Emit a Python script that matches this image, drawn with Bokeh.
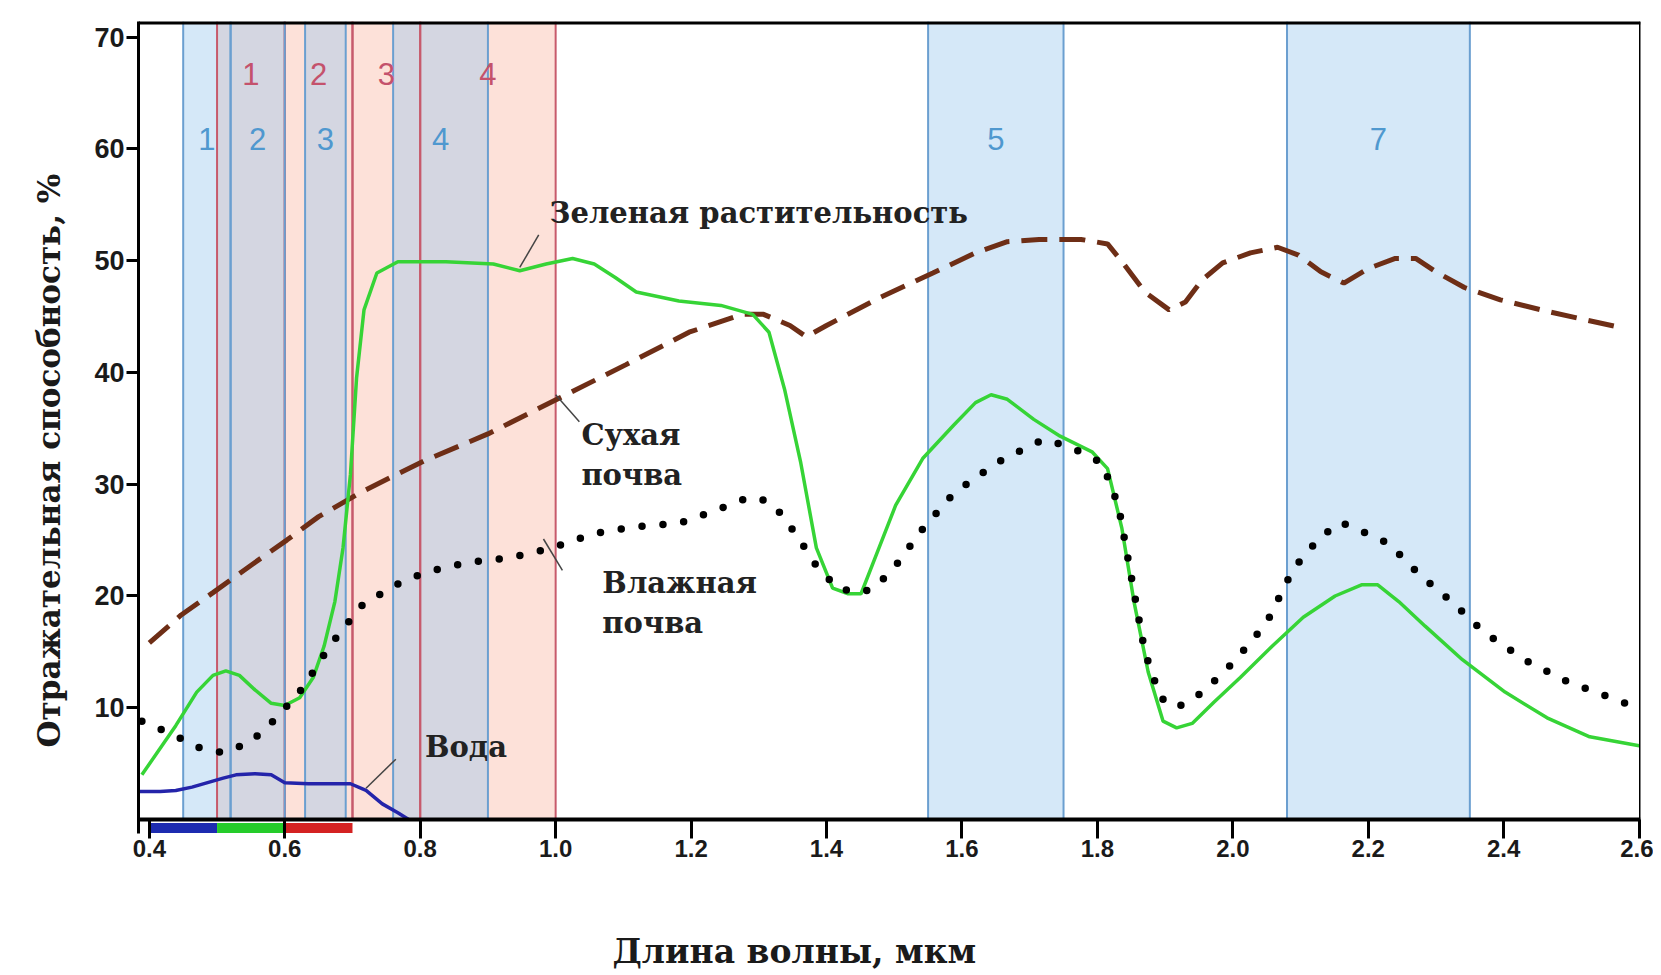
from bokeh.plotting import figure
from bokeh.models import Range1d, FixedTicker, Span, Title
from bokeh.core.properties import value
from bokeh.embed import file_html
from bokeh.resources import INLINE

# ---------------- data ----------------
green_x = [0.389, 0.439, 0.470, 0.494, 0.513, 0.533, 0.556, 0.580, 0.600, 0.622, 0.642, 0.658, 0.674, 0.686,
           0.697, 0.706, 0.717, 0.736, 0.767, 0.838, 0.908, 0.947, 0.986, 1.025, 1.057, 1.088, 1.119, 1.182,
           1.244, 1.291, 1.315, 1.338, 1.362, 1.385, 1.409, 1.432, 1.451, 1.471, 1.502, 1.542, 1.588, 1.620,
           1.643, 1.667, 1.706, 1.745, 1.792, 1.815, 1.836, 1.854, 1.875, 1.897, 1.917, 1.940, 1.972, 2.011,
           2.058, 2.104, 2.151, 2.190, 2.214, 2.245, 2.284, 2.339, 2.402, 2.464, 2.527, 2.600]
green_y = [4.0, 8.4, 11.4, 12.9, 13.3, 12.9, 11.6, 10.4, 10.2, 10.9, 12.7, 15.5, 19.5, 24.3,
           30.9, 39.5, 45.6, 48.9, 49.9, 49.9, 49.7, 49.1, 49.7, 50.2, 49.7, 48.5, 47.2, 46.4,
           46.0, 45.2, 43.6, 38.5, 31.9, 24.3, 20.7, 20.2, 20.2, 23.3, 28.1, 32.3, 35.3, 37.3,
           38.0, 37.6, 35.8, 34.3, 32.9, 31.4, 26.1, 19.5, 13.2, 8.8, 8.2, 8.6, 10.5, 12.7,
           15.5, 18.1, 20.0, 21.0, 21.0, 19.5, 17.3, 14.3, 11.4, 9.1, 7.4, 6.6]

dry_x = [0.400, 0.447, 0.494, 0.556, 0.603, 0.650, 0.713, 0.806, 0.900, 1.002, 1.104, 1.197, 1.276,
         1.307, 1.346, 1.370, 1.400, 1.479, 1.557, 1.620, 1.667, 1.714, 1.776, 1.815, 1.839, 1.870,
         1.906, 1.930, 1.955, 1.985, 2.026, 2.066, 2.097, 2.130, 2.164, 2.200, 2.240, 2.270, 2.300,
         2.342, 2.395, 2.469, 2.574]
dry_y = [15.8, 18.3, 20.3, 23.0, 25.0, 27.1, 29.3, 32.1, 34.5, 37.6, 40.7, 43.6, 45.2,
         45.2, 44.2, 43.2, 44.2, 46.7, 48.9, 50.7, 51.7, 51.9, 51.9, 51.5, 49.7, 47.2,
         45.6, 46.3, 48.3, 49.8, 50.7, 51.2, 50.5, 49.0, 48.0, 49.3, 50.2, 50.2, 49.0,
         47.6, 46.5, 45.4, 44.0]

wet_x = [0.389, 0.431, 0.478, 0.509, 0.549, 0.588, 0.627, 0.666, 0.713, 0.760, 0.807, 0.869, 0.932,
         0.994, 1.057, 1.119, 1.182, 1.229, 1.276, 1.299, 1.323, 1.354, 1.385, 1.416, 1.448, 1.471,
         1.502, 1.542, 1.588, 1.651, 1.706, 1.721, 1.761, 1.807, 1.831, 1.851, 1.870, 1.893, 1.917,
         1.956, 2.003, 2.050, 2.089, 2.128, 2.159, 2.190, 2.230, 2.276, 2.323, 2.370, 2.433, 2.495,
         2.558, 2.597]
wet_y = [8.8, 7.7, 6.3, 6.0, 6.9, 9.1, 11.8, 15.5, 19.1, 20.9, 22.1, 23.0, 23.4,
         24.3, 25.6, 26.2, 26.5, 27.5, 28.6, 28.8, 28.1, 25.6, 22.7, 20.7, 20.3, 20.7,
         22.7, 26.0, 29.2, 31.9, 33.6, 34.0, 33.3, 31.9, 28.1, 21.4, 15.0, 10.9, 10.0,
         11.4, 14.2, 17.6, 22.4, 25.2, 26.6, 25.8, 24.7, 21.9, 19.5, 16.8, 14.2, 12.3,
         10.9, 10.0]

water_x = [0.384, 0.416, 0.439, 0.463, 0.486, 0.509, 0.528, 0.556, 0.580, 0.600, 0.635, 0.697,
           0.720, 0.744, 0.767, 0.783]
water_y = [2.5, 2.5, 2.6, 2.9, 3.3, 3.7, 4.0, 4.1, 4.0, 3.3, 3.2, 3.2, 2.6, 1.4, 0.6, 0.0]

# Landsat TM bands (blue) and MSS bands (red), micrometres
tm_names = ["1", "2", "3", "4", "5", "7"]
tm_lo = [0.45, 0.52, 0.63, 0.76, 1.55, 2.08]
tm_hi = [0.52, 0.60, 0.69, 0.90, 1.75, 2.35]
mss_names = ["1", "2", "3", "4"]
mss_lo = [0.5, 0.6, 0.7, 0.8]
mss_hi = [0.6, 0.7, 0.8, 1.0]

# visible colour strips under the axis
strip_lo = [0.4, 0.5, 0.6]
strip_hi = [0.5, 0.6, 0.7]
strip_colors = ["#1d2bb0", "#25cc2a", "#d42222"]

x_ticks = [0.4, 0.6, 0.8, 1.0, 1.2, 1.4, 1.6, 1.8, 2.0, 2.2, 2.4, 2.6]
x_tick_labels = ["0.4", "0.6", "0.8", "1.0", "1.2", "1.4", "1.6", "1.8", "2.0", "2.2", "2.4", "2.6"]
y_ticks = [10, 20, 30, 40, 50, 60, 70]

ann_text = ["Зеленая растительность", "Сухая", "почва", "Влажная", "почва", "Вода"]
ann_x = [0.991, 1.038, 1.038, 1.069, 1.069, 0.807]
ann_y = [54.3, 34.4, 30.8, 21.2, 17.6, 6.5]
lead_x0 = [0.975, 1.000, 0.982, 0.764]
lead_y0 = [52.3, 38.0, 25.1, 5.4]
lead_x1 = [0.947, 1.035, 1.010, 0.720]
lead_y1 = [49.4, 35.6, 22.3, 2.8]

X_LABEL = "Длина волны, мкм"
Y_LABEL = "Отражательная способность, %"

X_START, X_END = 0.384, 2.602
Y_START, Y_END = -1.25, 71.4

# ---------------- figure ----------------
p = figure(frame_width=1502, frame_height=812,
           x_range=Range1d(X_START, X_END), y_range=Range1d(Y_START, Y_END),
           output_backend="svg", toolbar_location=None,
           min_border_left=138, min_border_top=21, min_border_right=13, min_border_bottom=10)
p.outline_line_color = None
p.grid.visible = False
p.background_fill_color = "white"
p.border_fill_color = "white"

# bands
p.quad(left=mss_lo, right=mss_hi, bottom=0, top=Y_END, fill_color="#fde1d9", line_color=None)
p.quad(left=tm_lo, right=tm_hi, bottom=0, top=Y_END, fill_color="#96c5ed", fill_alpha=0.4, line_color=None)
p.segment(x0=mss_lo + mss_hi, y0=0, x1=mss_lo + mss_hi, y1=Y_END, line_color="#c75a6c", line_width=2)
p.segment(x0=tm_lo + tm_hi, y0=0, x1=tm_lo + tm_hi, y1=Y_END, line_color="#6b9fd0", line_width=2)

tm_mid = [(a + b) / 2 for a, b in zip(tm_lo, tm_hi)]
mss_mid = [(a + b) / 2 for a, b in zip(mss_lo, mss_hi)]
p.text(x=tm_mid, y=60.9, text=tm_names, text_align="center", text_baseline="middle",
       text_color="#4f98cf", text_font=value("Liberation Sans"), text_font_size="31px")
p.text(x=mss_mid, y=66.7, text=mss_names, text_align="center", text_baseline="middle",
       text_color="#c4526c", text_font=value("Liberation Sans"), text_font_size="31px")

# curves
p.line(water_x, water_y, line_color="#2424aa", line_width=3.5)
p.line(dry_x, dry_y, line_color="#6e2e16", line_width=5, line_dash="26 12")
p.line(green_x, green_y, line_color="#36d436", line_width=3.5)
p.line(wet_x, wet_y, line_color="black", line_width=7.5, line_dash="0 21", line_cap="round")

# annotations
p.segment(x0=lead_x0, y0=lead_y0, x1=lead_x1, y1=lead_y1, line_color="#444444", line_width=1.5)
p.text(x=ann_x, y=ann_y, text=ann_text, text_align="left", text_baseline="middle",
       text_color="#222222", text_font=value("DejaVu Serif"), text_font_size="29px",
       text_font_style="bold")

# colour strips just below the zero line
p.quad(left=strip_lo, right=strip_hi, bottom=-1.2, top=-0.3, fill_color=strip_colors, line_color=None)

# frame lines
p.add_layout(Span(location=0, dimension="width", line_color="black", line_width=4))
p.add_layout(Span(location=Y_END, dimension="width", line_color="black", line_width=6))
p.add_layout(Span(location=X_END, dimension="height", line_color="black", line_width=3))

# axes
p.xaxis.ticker = FixedTicker(ticks=x_ticks)
p.xaxis.major_label_overrides = {t: l for t, l in zip(x_ticks, x_tick_labels)}
p.xaxis.axis_line_color = None
p.xaxis.major_tick_in = 14
p.xaxis.major_tick_out = 5
p.xaxis.major_tick_line_width = 3
p.xaxis.minor_tick_line_color = None
p.xaxis.major_label_standoff = 1
p.xaxis.major_label_text_font = "Liberation Sans"
p.xaxis.major_label_text_font_style = "bold"
p.xaxis.major_label_text_font_size = "24px"
p.xaxis.major_label_text_color = "#1a1a1a"

p.yaxis.ticker = FixedTicker(ticks=y_ticks)
p.yaxis.axis_line_width = 3
p.yaxis.major_tick_in = 0
p.yaxis.major_tick_out = 12
p.yaxis.major_tick_line_width = 3
p.yaxis.minor_tick_line_color = None
p.yaxis.major_label_standoff = 2
p.yaxis.major_label_text_font = "Liberation Sans"
p.yaxis.major_label_text_font_style = "bold"
p.yaxis.major_label_text_font_size = "27px"
p.yaxis.major_label_text_color = "#1a1a1a"

# axis titles, placed slightly off-centre as in the original
p.add_layout(Title(text=X_LABEL, align="left", offset=474, standoff=140,
                   text_font="DejaVu Serif", text_font_style="bold", text_font_size="33px",
                   text_color="#1a1a1a"), "below")
p.add_layout(Title(text=Y_LABEL, align="left", offset=86, standoff=49,
                   text_font="DejaVu Serif", text_font_style="bold", text_font_size="31px",
                   text_color="#1a1a1a"), "left")

open("out.html", "w").write(file_html(p, INLINE))
